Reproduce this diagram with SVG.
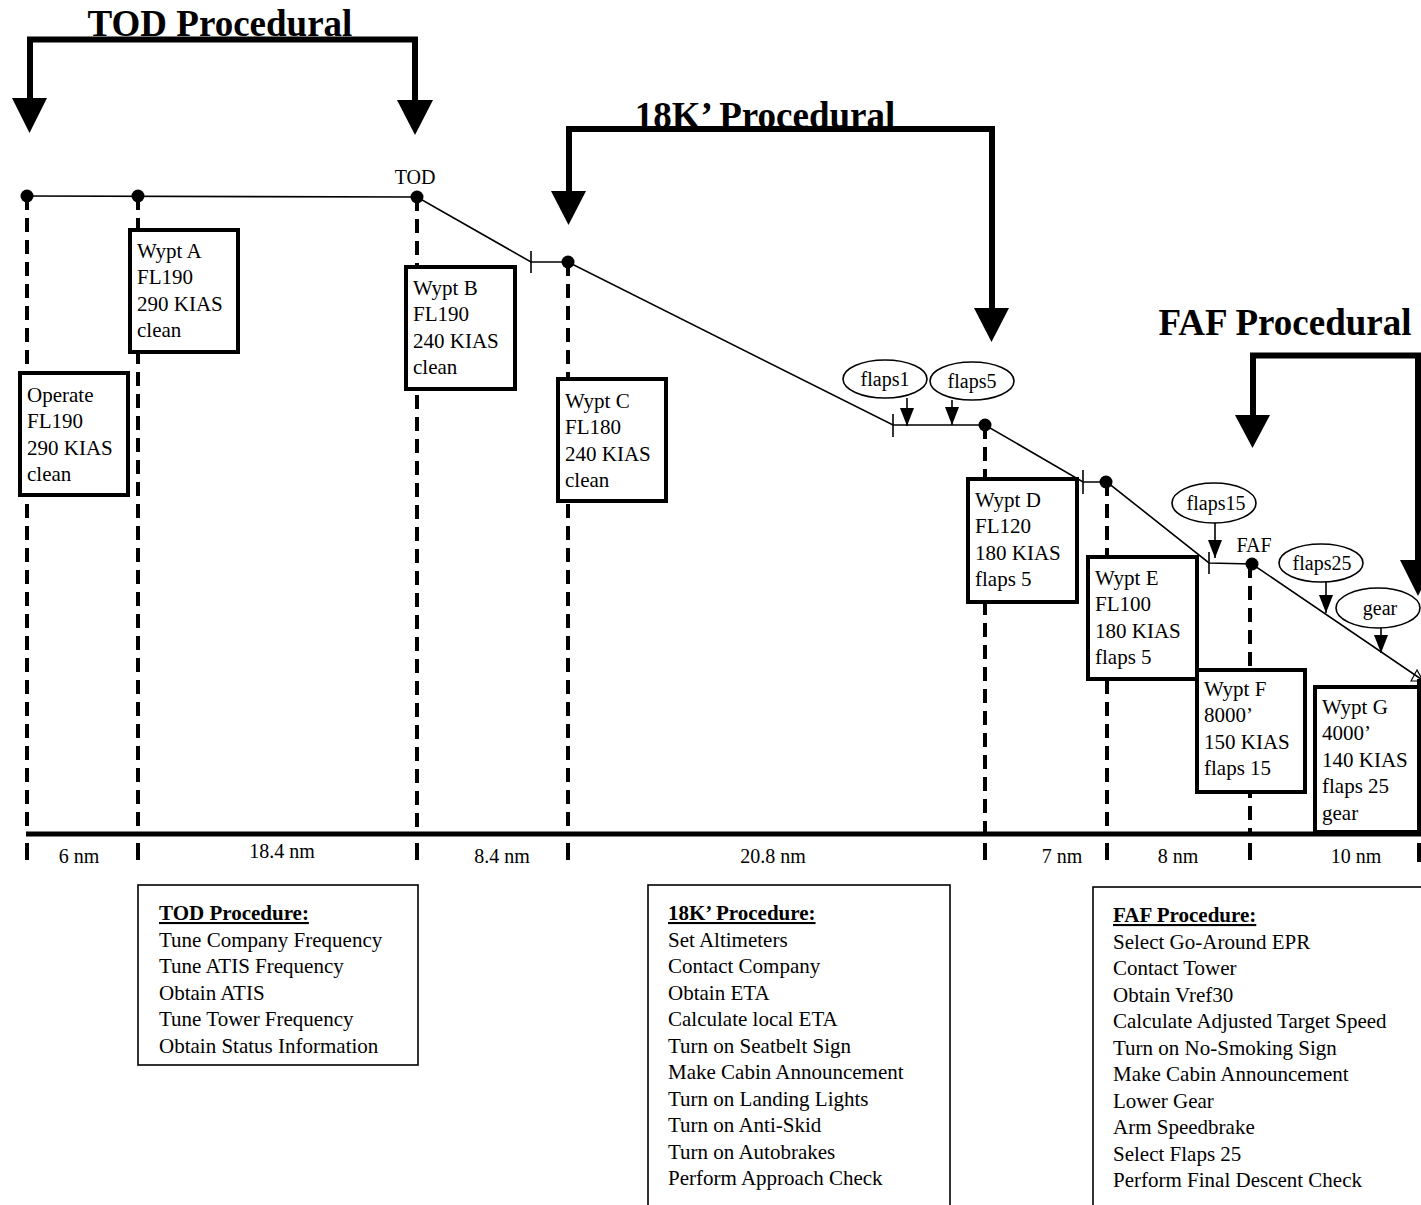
<svg xmlns="http://www.w3.org/2000/svg" width="1421" height="1205" viewBox="0 0 1421 1205">
  <defs>
    <style>
      text { font-family: "Liberation Serif", "Times New Roman", serif; fill: #000; }
      .title { font-size: 37px; font-weight: bold; text-anchor: middle; }
      .bracket { fill: none; stroke: #000; stroke-width: 6; stroke-linejoin: miter; }
      .head { fill: #000; stroke: none; }
      .profile { fill: none; stroke: #000; stroke-width: 1.6; }
      .tick { stroke: #000; stroke-width: 1.6; }
      .drop { stroke: #000; stroke-width: 4; stroke-dasharray: 14 8; }
      .stub { stroke: #000; stroke-width: 4; }
      .axis { stroke: #000; stroke-width: 5; }
      .dot { fill: #000; }
      .wbox { fill: #fff; stroke: #000; stroke-width: 4; }
      .wtxt { font-size: 21px; }
      .oval { fill: #fff; stroke: #000; stroke-width: 1.6; }
      .otxt { font-size: 20px; text-anchor: middle; }
      .pointer { stroke: #000; stroke-width: 1.6; marker-end: url(#tip); }
      .dist { font-size: 20px; text-anchor: middle; }
      .pbox { fill: #fff; stroke: #000; stroke-width: 1.6; }
      .ptxt { font-size: 21px; }
      .phead { font-size: 21px; font-weight: bold; text-decoration: underline; }
      .mark { font-size: 20px; text-anchor: middle; }
    </style>
    <marker id="tip" markerUnits="userSpaceOnUse" viewBox="0 0 18 14" refX="18" refY="7" markerWidth="18" markerHeight="14" orient="auto">
      <path d="M0,0 L18,7 L0,14 Z" fill="#000"/>
    </marker>
  </defs>

  <rect width="1421" height="1205" fill="#fff"/>

  <!-- phase brackets with titles -->
  <g id="tod-procedural">
    <text class="title" x="220" y="36">TOD Procedural</text>
    <polyline class="bracket" points="30,100 30,39.5 415,39.5 415,102"/>
    <polygon class="head" points="12,98 47,98 29.5,133"/>
    <polygon class="head" points="397,100 433,100 415,135"/>
  </g>
  <g id="k18-procedural">
    <text class="title" x="765" y="128">18K’ Procedural</text>
    <polyline class="bracket" points="569,193 569,129 992,129 992,310"/>
    <polygon class="head" points="551,191 586,191 568.5,225"/>
    <polygon class="head" points="974,308 1009,308 991.5,342"/>
  </g>
  <g id="faf-procedural">
    <text class="title" x="1285" y="335">FAF Procedural</text>
    <polyline class="bracket" points="1253,417 1253,355.5 1418,355.5 1418,562"/>
    <polygon class="head" points="1235,415 1270,415 1252.5,448"/>
    <polygon class="head" points="1400,560 1436,560 1418,596"/>
  </g>

  <!-- connectors: waypoint drop lines, distance axis, descent profile, config pointers -->
  <g id="connectors">
    <line class="drop" x1="27" y1="196" x2="27" y2="832"/>
    <line class="drop" x1="138" y1="196" x2="138" y2="832"/>
    <line class="drop" x1="417" y1="197" x2="417" y2="832"/>
    <line class="drop" x1="568" y1="262" x2="568" y2="832"/>
    <line class="drop" x1="985" y1="425" x2="985" y2="832"/>
    <line class="drop" x1="1107" y1="482" x2="1107" y2="832"/>
    <line class="drop" x1="1250" y1="564" x2="1250" y2="832"/>
    <line class="drop" x1="1419" y1="679" x2="1419" y2="832"/>

    <line class="axis" x1="26" y1="834" x2="1421" y2="834"/>
    <line class="stub" x1="27" y1="843" x2="27" y2="860"/>
    <line class="stub" x1="138" y1="843" x2="138" y2="860"/>
    <line class="stub" x1="417" y1="843" x2="417" y2="860"/>
    <line class="stub" x1="568" y1="843" x2="568" y2="860"/>
    <line class="stub" x1="985" y1="843" x2="985" y2="860"/>
    <line class="stub" x1="1107" y1="843" x2="1107" y2="860"/>
    <line class="stub" x1="1250" y1="843" x2="1250" y2="860"/>
    <line class="stub" x1="1419" y1="843" x2="1419" y2="862"/>

    <polyline class="profile" points="27,196 417,197 531,262 568,262 893,425 985,425 1083,482 1107,482 1209,563 1252,564 1421,679"/>
    <line class="tick" x1="531" y1="251" x2="531" y2="273"/>
    <line class="tick" x1="893" y1="414" x2="893" y2="437"/>
    <line class="tick" x1="1083" y1="470" x2="1083" y2="494"/>
    <line class="tick" x1="1209" y1="552" x2="1209" y2="574"/>
    <polygon points="1411,681 1417,670 1423,681" fill="none" stroke="#000" stroke-width="1.2"/>

    <line class="pointer" x1="907" y1="398" x2="907" y2="426"/>
    <line class="pointer" x1="952" y1="400" x2="952" y2="425"/>
    <line class="pointer" x1="1215" y1="523" x2="1215" y2="558"/>
    <line class="pointer" x1="1326" y1="582" x2="1326" y2="613"/>
    <line class="pointer" x1="1381" y1="628" x2="1381" y2="653"/>

    <circle class="dot" cx="27" cy="196" r="6.5"/>
    <circle class="dot" cx="138" cy="196" r="6.5"/>
    <circle class="dot" cx="417" cy="197" r="6.5"/>
    <circle class="dot" cx="568" cy="262" r="6.5"/>
    <circle class="dot" cx="985" cy="425" r="6.5"/>
    <circle class="dot" cx="1106" cy="482" r="6.5"/>
    <circle class="dot" cx="1252" cy="564" r="6.5"/>
  </g>

  <!-- point labels on the profile -->
  <text class="mark" x="415" y="184">TOD</text>
  <text class="mark" x="1254" y="552">FAF</text>

  <!-- waypoint boxes -->
  <g id="operate">
    <rect class="wbox" x="20" y="373" width="108" height="122"/>
    <text class="wtxt" x="27" y="402">Operate</text>
    <text class="wtxt" x="27" y="428">FL190</text>
    <text class="wtxt" x="27" y="455">290 KIAS</text>
    <text class="wtxt" x="27" y="481">clean</text>
  </g>
  <g id="wypt-a">
    <rect class="wbox" x="130" y="230" width="108" height="122"/>
    <text class="wtxt" x="137" y="258">Wypt A</text>
    <text class="wtxt" x="137" y="284">FL190</text>
    <text class="wtxt" x="137" y="311">290 KIAS</text>
    <text class="wtxt" x="137" y="337">clean</text>
  </g>
  <g id="wypt-b">
    <rect class="wbox" x="406" y="267" width="109" height="122"/>
    <text class="wtxt" x="413" y="295">Wypt B</text>
    <text class="wtxt" x="413" y="321">FL190</text>
    <text class="wtxt" x="413" y="348">240 KIAS</text>
    <text class="wtxt" x="413" y="374">clean</text>
  </g>
  <g id="wypt-c">
    <rect class="wbox" x="558" y="379" width="108" height="122"/>
    <text class="wtxt" x="565" y="408">Wypt C</text>
    <text class="wtxt" x="565" y="434">FL180</text>
    <text class="wtxt" x="565" y="461">240 KIAS</text>
    <text class="wtxt" x="565" y="487">clean</text>
  </g>
  <g id="wypt-d">
    <rect class="wbox" x="968" y="479" width="109" height="123"/>
    <text class="wtxt" x="975" y="507">Wypt D</text>
    <text class="wtxt" x="975" y="533">FL120</text>
    <text class="wtxt" x="975" y="560">180 KIAS</text>
    <text class="wtxt" x="975" y="586">flaps 5</text>
  </g>
  <g id="wypt-e">
    <rect class="wbox" x="1088" y="557" width="109" height="122"/>
    <text class="wtxt" x="1095" y="585">Wypt E</text>
    <text class="wtxt" x="1095" y="611">FL100</text>
    <text class="wtxt" x="1095" y="638">180 KIAS</text>
    <text class="wtxt" x="1095" y="664">flaps 5</text>
  </g>
  <g id="wypt-f">
    <rect class="wbox" x="1197" y="670" width="108" height="122"/>
    <text class="wtxt" x="1204" y="696">Wypt F</text>
    <text class="wtxt" x="1204" y="722">8000’</text>
    <text class="wtxt" x="1204" y="749">150 KIAS</text>
    <text class="wtxt" x="1204" y="775">flaps 15</text>
  </g>
  <g id="wypt-g">
    <rect class="wbox" x="1315" y="687" width="104" height="145"/>
    <text class="wtxt" x="1322" y="714">Wypt G</text>
    <text class="wtxt" x="1322" y="740">4000’</text>
    <text class="wtxt" x="1322" y="767">140 KIAS</text>
    <text class="wtxt" x="1322" y="793">flaps 25</text>
    <text class="wtxt" x="1322" y="820">gear</text>
  </g>

  <!-- configuration change callouts -->
  <g id="flaps1">
    <ellipse class="oval" cx="885" cy="379" rx="42" ry="19"/>
    <text class="otxt" x="885" y="386">flaps1</text>
  </g>
  <g id="flaps5">
    <ellipse class="oval" cx="972" cy="381" rx="42" ry="19"/>
    <text class="otxt" x="972" y="388">flaps5</text>
  </g>
  <g id="flaps15">
    <ellipse class="oval" cx="1214" cy="503" rx="42" ry="20"/>
    <text class="otxt" x="1216" y="510">flaps15</text>
  </g>
  <g id="flaps25">
    <ellipse class="oval" cx="1321" cy="563" rx="42" ry="19"/>
    <text class="otxt" x="1322" y="570">flaps25</text>
  </g>
  <g id="gear">
    <ellipse class="oval" cx="1378" cy="608" rx="42" ry="20"/>
    <text class="otxt" x="1380" y="615">gear</text>
  </g>

  <!-- leg distances -->
  <g id="distances">
    <text class="dist" x="79" y="863">6 nm</text>
    <text class="dist" x="282" y="858">18.4 nm</text>
    <text class="dist" x="502" y="863">8.4 nm</text>
    <text class="dist" x="773" y="863">20.8 nm</text>
    <text class="dist" x="1062" y="863">7 nm</text>
    <text class="dist" x="1178" y="863">8 nm</text>
    <text class="dist" x="1356" y="863">10 nm</text>
  </g>

  <!-- procedure checklists -->
  <g id="tod-procedure">
    <rect class="pbox" x="138" y="885" width="280" height="180"/>
    <text class="phead" x="159" y="920">TOD Procedure:</text>
    <text class="ptxt" x="159" y="946.5">Tune Company Frequency</text>
    <text class="ptxt" x="159" y="973">Tune ATIS Frequency</text>
    <text class="ptxt" x="159" y="999.5">Obtain ATIS</text>
    <text class="ptxt" x="159" y="1026">Tune Tower Frequency</text>
    <text class="ptxt" x="159" y="1052.5">Obtain Status Information</text>
  </g>
  <g id="k18-procedure">
    <rect class="pbox" x="648" y="885" width="302" height="340"/>
    <text class="phead" x="668" y="920">18K’ Procedure:</text>
    <text class="ptxt" x="668" y="946.5">Set Altimeters</text>
    <text class="ptxt" x="668" y="973">Contact Company</text>
    <text class="ptxt" x="668" y="999.5">Obtain ETA</text>
    <text class="ptxt" x="668" y="1026">Calculate local ETA</text>
    <text class="ptxt" x="668" y="1052.5">Turn on Seatbelt Sign</text>
    <text class="ptxt" x="668" y="1079">Make Cabin Announcement</text>
    <text class="ptxt" x="668" y="1105.5">Turn on Landing Lights</text>
    <text class="ptxt" x="668" y="1132">Turn on Anti-Skid</text>
    <text class="ptxt" x="668" y="1158.5">Turn on Autobrakes</text>
    <text class="ptxt" x="668" y="1185">Perform Approach Check</text>
  </g>
  <g id="faf-procedure">
    <rect class="pbox" x="1093" y="887" width="340" height="340"/>
    <text class="phead" x="1113" y="922">FAF Procedure:</text>
    <text class="ptxt" x="1113" y="948.5">Select Go-Around EPR</text>
    <text class="ptxt" x="1113" y="975">Contact Tower</text>
    <text class="ptxt" x="1113" y="1001.5">Obtain Vref30</text>
    <text class="ptxt" x="1113" y="1028">Calculate Adjusted Target Speed</text>
    <text class="ptxt" x="1113" y="1054.5">Turn on No-Smoking Sign</text>
    <text class="ptxt" x="1113" y="1081">Make Cabin Announcement</text>
    <text class="ptxt" x="1113" y="1107.5">Lower Gear</text>
    <text class="ptxt" x="1113" y="1134">Arm Speedbrake</text>
    <text class="ptxt" x="1113" y="1160.5">Select Flaps 25</text>
    <text class="ptxt" x="1113" y="1187">Perform Final Descent Check</text>
  </g>
</svg>
